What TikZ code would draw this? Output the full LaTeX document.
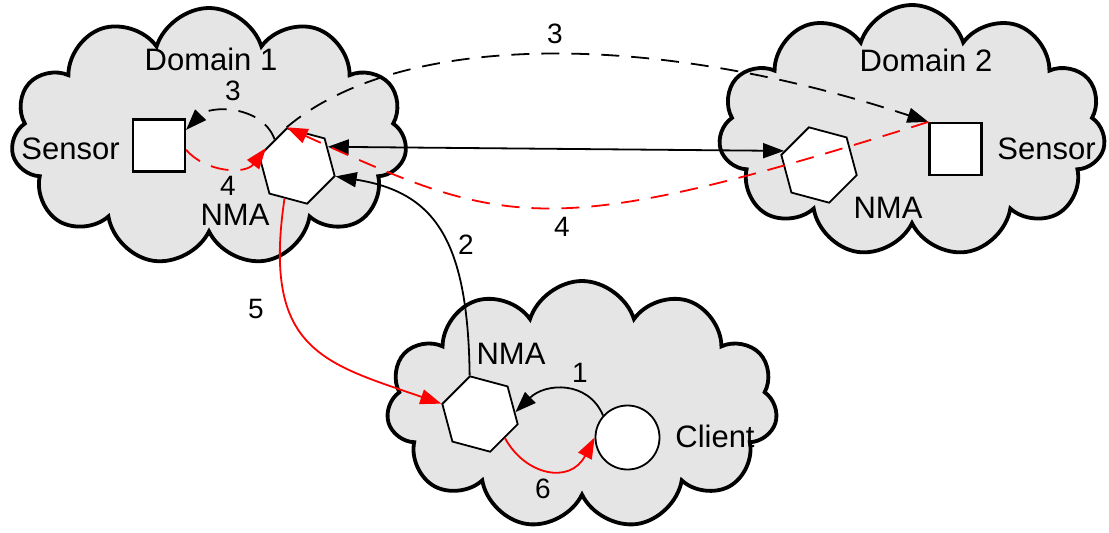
\documentclass[tikz,border=0pt]{standalone}
\usepackage{fontspec}
\setmainfont{Liberation Sans}
\usetikzlibrary{shapes.geometric,shapes.symbols,arrows.meta}
\begin{document}
\begin{tikzpicture}[x=1pt,y=1pt,
  >={Triangle[length=21pt,width=15pt]},
  cloudbox/.style={cloud, cloud puffs=11, cloud puff arc=145, cloud ignores aspect, draw=black, line width=3.8pt, fill=gray!20, inner sep=0pt},
  hexbox/.style={regular polygon, regular polygon sides=6, shape border rotate=45, minimum size=78pt, inner sep=0pt, draw=black, line width=1.8pt, fill=white},
  sensorbox/.style={rectangle, minimum size=52pt, inner sep=0pt, draw=black, line width=2.2pt, fill=white},
  clientbox/.style={circle, minimum size=64pt, inner sep=0pt, draw=black, line width=1.8pt, fill=white},
  wordlabel/.style={anchor=base, inner sep=0pt, font=\fontsize{31}{36}\selectfont},
  numlabel/.style={anchor=base, inner sep=0pt, font=\fontsize{28}{34}\selectfont},
  conn/.style={line width=1.8pt},
  dashpat/.style={dash pattern=on 18pt off 12pt},
]
\useasboundingbox (0,0) rectangle (1109,-533);
% clouds
\node[cloudbox, minimum width=396pt, minimum height=258pt] (c1) at (209,-137) {};
\node[cloudbox, minimum width=387pt, minimum height=252pt] (c2) at (912,-131) {};
\node[cloudbox, minimum width=391pt, minimum height=248pt] (c3) at (582,-405) {};
% elements
\node[hexbox] (nma1) at (297,-166) {};
\node[hexbox] (nma2) at (819,-165) {};
\node[hexbox] (nma3) at (480,-414) {};
\node[sensorbox] (sensor1) at (159,-145.5) {};
\node[sensorbox] (sensor2) at (955.5,-149) {};
\node[clientbox] (client) at (627.5,-437.5) {};
% connectors
\draw[conn, <->] (nma1.32) -- (nma2.158);
\draw[conn, ->] (nma3.105) .. controls (468,-237) and (433,-192) .. (nma1.345);
\draw[conn, red, ->] (nma1.249) .. controls (262,-350) and (323,-363) .. (nma3.165);
\draw[conn, red, ->] (nma3.316) .. controls (525,-475) and (570,-485) .. (client.180);
\draw[conn, ->] (client.138) .. controls (588,-380) and (545,-383) .. (nma3.3);
\draw[conn, dashpat, ->] (nma1.130) .. controls (262,-105) and (210,-105) .. (sensor1.30);
\draw[conn, red, dashpat, ->] (sensor1.-9) .. controls (205,-172) and (245,-175) .. (nma1.150);
\draw[conn, dashpat, ->] (nma1.105) .. controls (400,-32) and (650,-30) .. (sensor2.north west);
\draw[conn, red, dashpat, ->] (sensor2.north west) .. controls (546,-242.6) and (507,-227.5) .. (nma1.105);
% labels
\node[wordlabel] (d1) at (211,-70) {Domain 1};
\node[wordlabel] (s1l) at (70.5,-159) {Sensor};
\node[numlabel] (l3a) at (233,-100) {3};
\node[numlabel] (l4a) at (228,-195) {4};
\node[wordlabel] (n1l) at (235,-225) {NMA};
\node[wordlabel] (d2) at (926,-71) {Domain 2};
\node[wordlabel] (s2l) at (1046.5,-159) {Sensor};
\node[wordlabel] (n2l) at (888,-218) {NMA};
\node[numlabel] (l3b) at (555,-43) {3};
\node[numlabel] (l4b) at (562,-236) {4};
\node[numlabel] (l2) at (466,-254) {2};
\node[numlabel] (l5) at (256,-318) {5};
\node[wordlabel] (n3l) at (511,-364) {NMA};
\node[numlabel] (l1) at (580,-382) {1};
\node[numlabel] (l6) at (543,-498) {6};
\node[wordlabel] (cl) at (715,-447) {Client};
\end{tikzpicture}
\end{document}
